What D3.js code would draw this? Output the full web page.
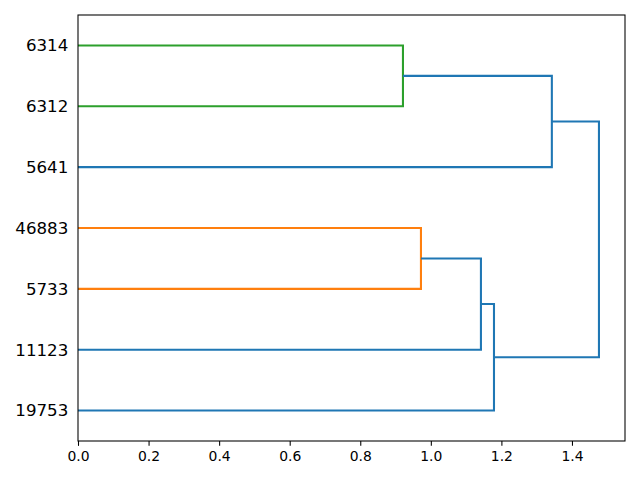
<!DOCTYPE html>
<html>
<head>
<meta charset="utf-8">
<script src="https://cdn.jsdelivr.net/npm/d3@7"></script>
<style>
  html, body { margin: 0; padding: 0; background: #fff; }
  svg { display: block; font-family: "DejaVu Sans", sans-serif; }
</style>
</head>
<body>
<script>
// Leaves, bottom to top (scipy leaf positions 5, 15, 25, ...)
const leafLabels = ["19753", "11123", "5733", "46883", "5641", "6312", "6314"];
// Merges: node ids 0..6 are leaves, merges get ids 7, 8, ...
const mergeLeft    = [5, 2, 1, 0, 4, 10];
const mergeRight   = [6, 3, 8, 9, 7, 11];
const mergeHeights = [0.921, 0.972, 1.142, 1.179, 1.343, 1.4765];
const mergeColors  = ["#2ca02c", "#ff7f0e", "#1f77b4", "#1f77b4", "#1f77b4", "#1f77b4"];
const xTicks = [0.0, 0.2, 0.4, 0.6, 0.8, 1.0, 1.2, 1.4];

(function () {
const W = 640, H = 480;
const mLeft = 78, mRight = 625, mTop = 15, mBottom = 441;

const svg = d3.select("body").append("svg").attr("width", W).attr("height", H);

const maxH = d3.max(mergeHeights);
const x = d3.scaleLinear().domain([0, maxH * 1.05]).range([mLeft, mRight]);
const y = d3.scaleLinear().domain([0, leafLabels.length * 10]).range([mBottom, mTop]);

// node positions
const pos = [], hgt = [];
leafLabels.forEach((d, i) => { pos.push(5 + 10 * i); hgt.push(0); });
mergeHeights.forEach((h, i) => {
  const a = mergeLeft[i], b = mergeRight[i];
  pos.push((pos[a] + pos[b]) / 2);
  hgt.push(h);
});

const g = svg.append("g");
mergeHeights.forEach((h, i) => {
  const a = mergeLeft[i], b = mergeRight[i];
  const p = d3.path();
  p.moveTo(x(hgt[a]), y(pos[a]));
  p.lineTo(x(h), y(pos[a]));
  p.lineTo(x(h), y(pos[b]));
  p.lineTo(x(hgt[b]), y(pos[b]));
  g.append("path").attr("d", p.toString())
    .attr("fill", "none").attr("stroke", mergeColors[i])
    .attr("stroke-width", 2.08).attr("stroke-linejoin", "miter").attr("stroke-linecap", "butt");
});

// x axis
const xAxis = d3.axisBottom(x).tickValues(xTicks).tickFormat(d3.format(".1f"))
  .tickSize(4.86).tickPadding(4.86);
const ax = svg.append("g").attr("transform", `translate(0,${mBottom})`).call(xAxis);
ax.select(".domain").remove();
ax.selectAll("line").attr("stroke", "#000").attr("stroke-width", 1.07);
ax.selectAll("text").attr("font-size", "13.9px").attr("fill", "#000")
  .attr("font-family", "DejaVu Sans, sans-serif");

// y axis leaf labels (no tick marks)
const yAxis = d3.axisLeft(y).tickValues(leafLabels.map((d, i) => 5 + 10 * i))
  .tickFormat((d, i) => leafLabels[i]).tickSize(0).tickPadding(9.7);
const ay = svg.append("g").attr("transform", `translate(${mLeft},0)`).call(yAxis);
ay.select(".domain").remove();
ay.selectAll("text").attr("font-size", "16.67px").attr("fill", "#000")
  .attr("font-family", "DejaVu Sans, sans-serif");

// frame
svg.append("rect").attr("x", mLeft).attr("y", mTop)
  .attr("width", mRight - mLeft).attr("height", mBottom - mTop)
  .attr("fill", "none").attr("stroke", "#000").attr("stroke-width", 1.07);
})();
</script>
</body>
</html>
